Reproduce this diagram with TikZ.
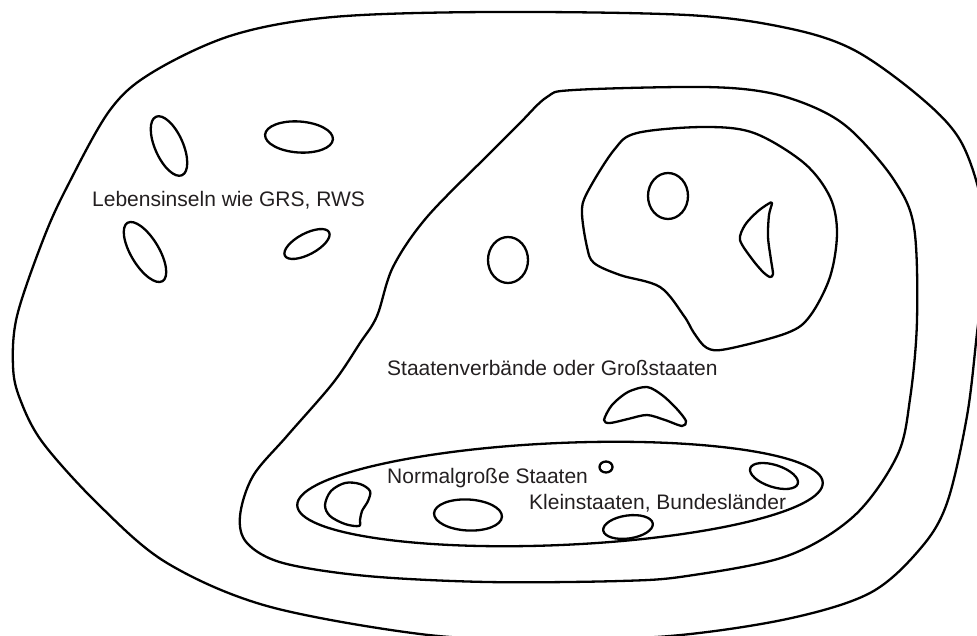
\documentclass[tikz,border=0pt]{standalone}
\usepackage{fontspec}
\setmainfont{Liberation Sans}
\definecolor{ink}{HTML}{231F20}
\begin{document}
\begin{tikzpicture}[x=1pt,y=-1pt,
  blob/.style={line width=2.3pt, line join=round, draw=black},
  lbl/.style={anchor=base west, inner sep=0pt, text=ink, font=\fontsize{21}{24}\selectfont}]
\useasboundingbox (0,0) rectangle (977,636);
\clip (0,0) rectangle (977,636);
% outer region
\draw[blob] plot[smooth cycle, tension=0.55] coordinates {
  (490,12) (687,15) (787,28) (854,50) (920,97) (960,140) (981,200) (985,260) (977,333)
  (967,416) (947,503) (920,549) (870,593) (787,619) (670,636) (540,640) (420,634)
  (267,606) (167,563) (100,506) (43,443) (20,399) (13,366) (17,316)
  (43,240) (67,187) (110,110) (153,72) (233,35) (333,17)};
% middle region
\draw[blob] plot[smooth cycle, tension=0.55] coordinates {
  (520,123) (547,97) (574,90) (704,87) (770,93) (820,110) (854,133) (894,180) (914,227)
  (917,320) (910,399) (897,456) (854,516) (787,556) (687,576) (620,581) (487,582)
  (367,576) (283,563) (247,543) (240,516) (253,476) (287,436) (333,383) (360,343)
  (377,316) (393,267) (427,217) (490,153)};
% inner blob (Grossstaaten)
\draw[blob] plot[smooth cycle, tension=0.55] coordinates {
  (587,193) (614,150) (637,133) (704,127) (754,133) (804,163) (830,197) (837,233)
  (830,277) (810,316) (787,333) (727,349) (707,348) (694,333) (684,316) (660,287)
  (620,275) (594,263) (587,247) (582,213)};
\draw[blob] (668,196) ellipse [x radius=20pt, y radius=23pt];
\draw[blob] plot[smooth cycle, tension=0.5] coordinates {
  (772,203) (769,215) (768,237) (771,260) (773,274) (770,277) (763,272) (752,259)
  (740,240) (745,225) (757,212) (768,204)};
\draw[blob] (508,260) ellipse [x radius=20pt, y radius=23pt];
% Lebensinseln
\draw[blob, rotate around={24:(169,146)}] (169,146) ellipse [x radius=14pt, y radius=32pt];
\draw[blob, rotate around={-4:(299,137)}] (299,137) ellipse [x radius=34pt, y radius=15.5pt];
\draw[blob, rotate around={31:(145,252)}] (145,252) ellipse [x radius=14pt, y radius=34pt];
\draw[blob, rotate around={28:(307,244)}] (307,244) ellipse [x radius=25pt, y radius=10.5pt];
% boomerang
\draw[blob] plot[smooth cycle, tension=0.5] coordinates {
  (604,420) (612,405) (628,392) (647,387) (662,395) (676,408) (686,421) (682,426)
  (665,420) (647,415) (628,419) (610,423)};
% Normalgrosse Staaten
\draw[blob, rotate around={2.5:(560,494)}] (560,494) ellipse [x radius=263pt, y radius=51pt];
\draw[blob] plot[smooth cycle, tension=0.55] coordinates {
  (359,526) (345,524) (330,516) (325,505) (331,491) (345,483) (360,484) (370,491)
  (368,501) (362,511) (360,520)};
\draw[blob, rotate around={-3:(468,515)}] (468,515) ellipse [x radius=34pt, y radius=15.5pt];
\draw[blob] (606,467) ellipse [x radius=6.5pt, y radius=5.5pt];
\draw[blob, rotate around={8:(628,527)}] (628,527) ellipse [x radius=25pt, y radius=11.5pt];
\draw[blob, rotate around={-18:(774,476)}] (774,476) ellipse [x radius=25pt, y radius=11pt];
% labels
\node[lbl] (leben) at (92,207) {Lebensinseln wie GRS, RWS};
\node[lbl] (gross) at (387,375) {Staatenverbände oder Großstaaten};
\node[lbl] (normal) at (387,483) {Normalgroße Staaten};
\node[lbl] (klein) at (529,509) {Kleinstaaten, Bundesländer};
\end{tikzpicture}
\end{document}
